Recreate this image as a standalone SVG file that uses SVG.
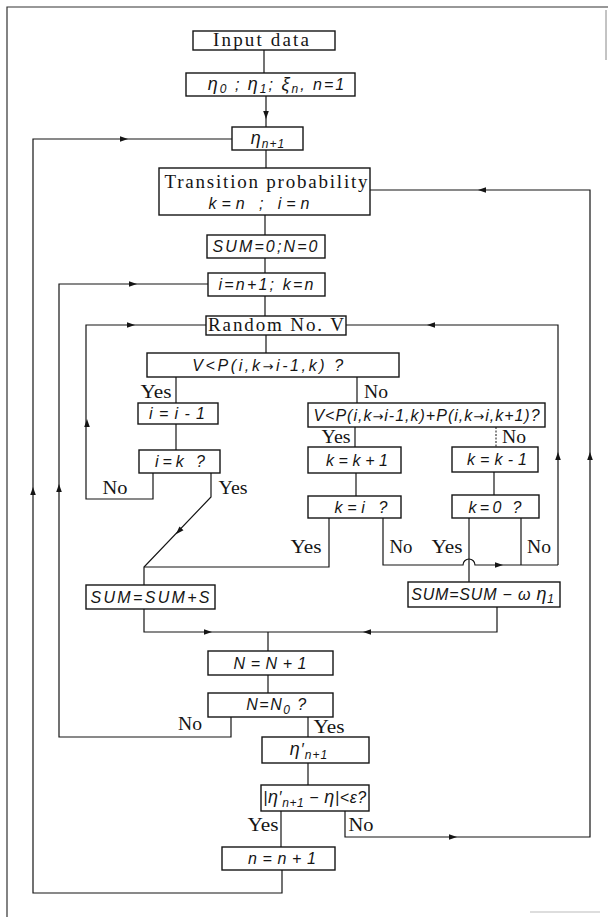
<svg xmlns="http://www.w3.org/2000/svg" xmlns:xlink="http://www.w3.org/1999/xlink" width="608" height="917" viewBox="0 0 608 917">
<style>
.b{fill:#fff;stroke:#151515;stroke-width:1.4}
.c{fill:none;stroke:#151515;stroke-width:1.2}
.d{fill:none;stroke:#151515;stroke-width:1;stroke-dasharray:2 1.5}
.f{fill:none;stroke:#333;stroke-width:1.2}
.m{font-family:"Liberation Sans",Arial,sans-serif;font-style:italic;font-size:16px;fill:#151515;text-anchor:middle}
.s{font-family:"Liberation Serif","Times New Roman",serif;font-size:19px;fill:#151515;text-anchor:middle}
.l{font-family:"Liberation Serif","Times New Roman",serif;font-size:18px;fill:#151515;text-anchor:middle}
.sub{font-size:12px}
.g{font-size:18px}
.ar{font-family:"DejaVu Sans",sans-serif;font-style:normal;font-size:13px}
.ah{fill:#151515}
</style>
<defs>
<path id="a" d="M3,0 L-5,-2.8 L-5,2.8 Z"/>
</defs>
<rect width="608" height="917" fill="#fff"/>
<g id="frame">
<path class="f" d="M7,917 V7 H608"/>
<path d="M606,10 V60" stroke="#888" stroke-width="1" fill="none"/>
<path d="M530,912 H600" stroke="#bbb" stroke-width="1" fill="none"/>
</g>
<g id="connectors">
<path class="c" d="M264,50 V73"/>
<path class="c" d="M266,96 V127"/>
<path class="c" d="M266,150 V168"/>
<path class="c" d="M265,215 V235"/>
<path class="c" d="M265,258 V273"/>
<path class="c" d="M265,296 V316"/>
<path class="c" d="M266,335 V353"/>
<path class="c" d="M176,377 V403"/>
<path class="c" d="M176,424 V450"/>
<path class="c" d="M153,473 V499 H86 V325 H206"/>
<path class="c" d="M211,473 V497 L144,567 V585"/>
<path class="c" d="M357,377 V403"/>
<path class="c" d="M355,427 V447"/>
<path class="d" d="M496,427 V447"/>
<path class="c" d="M356,473 V496"/>
<path class="c" d="M494,472 V495"/>
<path class="c" d="M329,518 V567 H144"/>
<path class="c" d="M383,518 V565 H463 A6,6 0 0 1 475,565 H558"/>
<path class="c" d="M469,518 V582"/>
<path class="c" d="M521,518 V565"/>
<path class="c" d="M558,565 V325 H346"/>
<path class="c" d="M144,609 V632 H497 V607"/>
<path class="c" d="M268,632 V651"/>
<path class="c" d="M268,675 V693"/>
<path class="c" d="M231,717 V737 H59 V284 H208"/>
<path class="c" d="M308,717 V737"/>
<path class="c" d="M308,763 V785"/>
<path class="c" d="M281,811 V847"/>
<path class="c" d="M345,811 V837 H590 V190 H370"/>
<path class="c" d="M282,870 V893 H33 V139 H232"/>
<use xlink:href="#a" class="ah" transform="translate(266,116) rotate(90)"/>
<use xlink:href="#a" class="ah" transform="translate(87,422) rotate(-90)"/>
<use xlink:href="#a" class="ah" transform="translate(132,325)"/>
<use xlink:href="#a" class="ah" transform="translate(178,532) rotate(134)"/>
<use xlink:href="#a" class="ah" transform="translate(500,565)"/>
<use xlink:href="#a" class="ah" transform="translate(558,455) rotate(-90)"/>
<use xlink:href="#a" class="ah" transform="translate(430,325) rotate(180)"/>
<use xlink:href="#a" class="ah" transform="translate(209,632)"/>
<use xlink:href="#a" class="ah" transform="translate(366,632) rotate(180)"/>
<use xlink:href="#a" class="ah" transform="translate(59,487) rotate(-90)"/>
<use xlink:href="#a" class="ah" transform="translate(134,284)"/>
<use xlink:href="#a" class="ah" transform="translate(454,837)"/>
<use xlink:href="#a" class="ah" transform="translate(590,455) rotate(-90)"/>
<use xlink:href="#a" class="ah" transform="translate(481,190) rotate(180)"/>
<use xlink:href="#a" class="ah" transform="translate(33,490) rotate(-90)"/>
<use xlink:href="#a" class="ah" transform="translate(125,139)"/>
</g>
<g id="labels">
<text class="l" x="156" y="398" textLength="31" lengthAdjust="spacingAndGlyphs">Yes</text>
<text class="l" x="376" y="398" textLength="24" lengthAdjust="spacingAndGlyphs">No</text>
<text class="l" x="336" y="443" textLength="29" lengthAdjust="spacingAndGlyphs">Yes</text>
<text class="l" x="514" y="443" textLength="24" lengthAdjust="spacingAndGlyphs">No</text>
<text class="l" x="115" y="494" textLength="25" lengthAdjust="spacingAndGlyphs">No</text>
<text class="l" x="233" y="494" textLength="29" lengthAdjust="spacingAndGlyphs">Yes</text>
<text class="l" x="306" y="553" textLength="31" lengthAdjust="spacingAndGlyphs">Yes</text>
<text class="l" x="401" y="553" textLength="23" lengthAdjust="spacingAndGlyphs">No</text>
<text class="l" x="447" y="553" textLength="31" lengthAdjust="spacingAndGlyphs">Yes</text>
<text class="l" x="539" y="553" textLength="24" lengthAdjust="spacingAndGlyphs">No</text>
<text class="l" x="190" y="730" textLength="24" lengthAdjust="spacingAndGlyphs">No</text>
<text class="l" x="329" y="733" textLength="31" lengthAdjust="spacingAndGlyphs">Yes</text>
<text class="l" x="263" y="831" textLength="31" lengthAdjust="spacingAndGlyphs">Yes</text>
<text class="l" x="361" y="831" textLength="25" lengthAdjust="spacingAndGlyphs">No</text>
</g>
<g id="n_input"><rect class="b" x="193" y="31" width="142" height="19"/><text class="s" x="261" y="46" font-size="18" textLength="96" lengthAdjust="spacing">Input data</text></g>
<g id="n_init0"><rect class="b" x="186" y="73" width="169" height="23"/><text class="m" x="277" y="90" letter-spacing="2"><tspan class="g">η</tspan><tspan class="sub" dy="3">0</tspan><tspan dy="-3"> ;  </tspan><tspan class="g">η</tspan><tspan class="sub" dy="3">1</tspan><tspan dy="-3">; </tspan><tspan class="g">ξ</tspan><tspan class="sub" dy="3">n</tspan><tspan dy="-3">,  n=1</tspan></text></g>
<g id="n_eta"><rect class="b" x="232" y="127" width="71" height="23"/><text class="m" x="268" y="144" letter-spacing="1"><tspan class="g">η</tspan><tspan class="sub" dy="4">n+1</tspan></text></g>
<g id="n_trans"><rect class="b" x="159" y="168" width="211" height="47"/><text class="s" x="266" y="188" font-size="20" textLength="203" lengthAdjust="spacing">Transition probability</text><text class="m" x="259" y="209" textLength="101" lengthAdjust="spacing">k=n ; i=n</text></g>
<g id="n_sum0"><rect class="b" x="207" y="235" width="118" height="23"/><text class="m" x="265" y="252" textLength="105" lengthAdjust="spacing">SUM=0;N=0</text></g>
<g id="n_ik"><rect class="b" x="208" y="273" width="117" height="23"/><text class="m" x="266" y="290" textLength="95" lengthAdjust="spacing">i=n+1;  k=n</text></g>
<g id="n_rand"><rect class="b" x="206" y="316" width="140" height="19"/><text class="s" x="276" y="331" textLength="136" lengthAdjust="spacing">Random No. V</text></g>
<g id="n_c1"><rect class="b" x="147" y="353" width="252" height="24"/><text class="m" x="269" y="371" letter-spacing="2.6">V&lt;P(i,k<tspan class="ar">→</tspan>i-1,k) ?</text></g>
<g id="n_dec"><rect class="b" x="138" y="403" width="80" height="21"/><text class="m" x="177" y="419" textLength="56" lengthAdjust="spacing">i=i-1</text></g>
<g id="n_c2"><rect class="b" x="308" y="403" width="237" height="24"/><text class="m" x="427" y="421" letter-spacing="1">V&lt;P(i,k<tspan class="ar">→</tspan>i-1,k)+P(i,k<tspan class="ar">→</tspan>i,k+1)?</text></g>
<g id="n_ieqk"><rect class="b" x="139" y="450" width="81" height="23"/><text class="m" x="180" y="467" textLength="50" lengthAdjust="spacing">i=k ?</text></g>
<g id="n_kinc"><rect class="b" x="308" y="447" width="93" height="26"/><text class="m" x="357" y="466" textLength="62" lengthAdjust="spacing">k=k+1</text></g>
<g id="n_kdec"><rect class="b" x="452" y="447" width="86" height="25"/><text class="m" x="497" y="465" textLength="60" lengthAdjust="spacing">k=k-1</text></g>
<g id="n_keqi"><rect class="b" x="308" y="496" width="93" height="22"/><text class="m" x="361" y="513" textLength="53" lengthAdjust="spacing">k=i ?</text></g>
<g id="n_keq0"><rect class="b" x="452" y="495" width="87" height="23"/><text class="m" x="495" y="513" textLength="53" lengthAdjust="spacing">k=0 ?</text></g>
<g id="n_sums"><rect class="b" x="86" y="585" width="129" height="24"/><text class="m" x="150" y="603" textLength="119" lengthAdjust="spacing">SUM=SUM+S</text></g>
<g id="n_sumw"><rect class="b" x="408" y="582" width="152" height="25"/><text class="m" x="483" y="600" letter-spacing="0.8">SUM=SUM − ω <tspan class="g">η</tspan><tspan class="sub" dy="3">1</tspan></text></g>
<g id="n_ninc"><rect class="b" x="208" y="651" width="125" height="24"/><text class="m" x="270" y="669" textLength="73" lengthAdjust="spacing">N=N+1</text></g>
<g id="n_nn0"><rect class="b" x="208" y="693" width="125" height="24"/><text class="m" x="277" y="710" letter-spacing="1.5">N=N<tspan class="sub" dy="4">0</tspan><tspan dy="-4"> ?</tspan></text></g>
<g id="n_etap"><rect class="b" x="262" y="737" width="107" height="26"/><text class="m" x="309" y="755" letter-spacing="1"><tspan class="g">η</tspan>′<tspan class="sub" dy="4">n+1</tspan></text></g>
<g id="n_conv"><rect class="b" x="261" y="785" width="108" height="26"/><text class="m" x="315" y="803" letter-spacing="0.6">|<tspan class="g">η</tspan>′<tspan class="sub" dy="4">n+1</tspan><tspan dy="-4"> − </tspan><tspan class="g">η</tspan>|&lt;ε?</text></g>
<g id="n_ninc2"><rect class="b" x="222" y="847" width="113" height="23"/><text class="m" x="282" y="864" textLength="68" lengthAdjust="spacing">n=n+1</text></g>
</svg>
